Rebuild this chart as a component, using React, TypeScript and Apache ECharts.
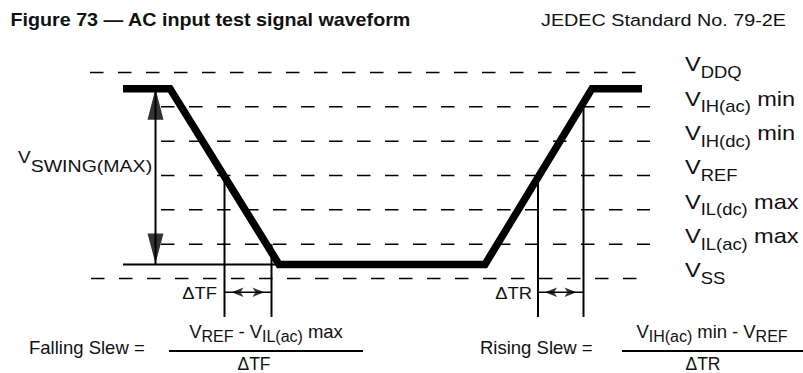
import React, { useEffect, useRef } from 'react';
import * as echarts from 'echarts';

// ---- data ----
// voltage levels, in evenly spaced level units (VSS = 0 … VDDQ = 6)
const levelValues = [0, 1, 2, 3, 4, 5, 6];
const levelSubs = ['SS', 'IL(ac)', 'IL(dc)', 'REF', 'IH(dc)', 'IH(ac)', 'DDQ'];
const levelSuffix = ['', 'max', 'max', '', 'min', 'min', ''];
const dashStart = [91, 161, 161, 161, 161, 161, 90];
const dashEnd = [650, 650, 650, 650, 650, 650, 650];
const labelTime = 685;
const labelLevelShift = 0.235;

// waveform (time units, level units)
const waveTimes = [123, 170, 279, 485, 592, 642];
const waveLevels = [5.53, 5.53, 0.41, 0.41, 5.53, 5.53];

// low reference line
const lowRefTimes = [123, 280];
const lowRefLevel = 0.41;

// swing arrow
const swingTime = 155.5;
const swingLevels = [5.53, 0.41];
const swingLabelTime = 18;
const swingLabelLevel = 3.52;

// measurement verticals
const crossTimes = [224.5, 271.5, 538, 583.5];
const crossLevels = [3, 1, 3, 5];
const crossBottomLevel = -1.12;

// delta arrows
const deltaNames = ['ΔTF', 'ΔTR'];
const deltaLevel = -0.4;
const deltaFrom = [224.5, 538];
const deltaTo = [271.5, 583.5];
const deltaLabelRight = [217, 532];

const FONT = '"Liberation Sans", Arial, Helvetica, sans-serif';
const INK = '#111';

export default function App() {
  const ref = useRef<HTMLDivElement>(null);

  useEffect(() => {
    const chart = echarts.init(ref.current!, null, { renderer: 'svg', width: 803, height: 373 });

    const lineSeries = (data: number[][], width: number, type: any = 'solid') => ({
      type: 'line',
      data,
      symbol: 'none',
      silent: true,
      clip: false,
      lineStyle: { color: '#000', width, type, cap: 'butt', join: 'miter' },
    });

    const headSeries = (data: number[][], symbol: string, size: number[], rotate: number, offset: number[]) => ({
      type: 'scatter',
      data,
      symbol,
      symbolSize: size,
      symbolRotate: rotate,
      symbolOffset: offset,
      silent: true,
      clip: false,
      itemStyle: { color: '#000' },
    });

    const series: any[] = [];
    levelValues.forEach((lv, i) => {
      series.push(lineSeries([[dashStart[i], lv], [dashEnd[i], lv]], 1.5, [13.5, 14.5]));
    });
    series.push(lineSeries([[lowRefTimes[0], lowRefLevel], [lowRefTimes[1], lowRefLevel]], 2));
    crossTimes.forEach((t, i) => {
      series.push(lineSeries([[t, crossLevels[i]], [t, crossBottomLevel]], 2));
    });
    // swing shaft with arrowheads
    series.push(lineSeries([[swingTime, swingLevels[0]], [swingTime, swingLevels[1]]], 2));
    series.push(headSeries([[swingTime, swingLevels[0]]], 'triangle', [16, 31], 0, [0, 15.5]));
    series.push(headSeries([[swingTime, swingLevels[1]]], 'triangle', [16, 30], 180, [0, -16]));
    // delta arrows
    deltaFrom.forEach((t, i) => {
      series.push(lineSeries([[t, deltaLevel], [deltaTo[i], deltaLevel]], 1.5));
    });
    series.push(headSeries(deltaFrom.map((t) => [t, deltaLevel]), 'arrow', [7, 12], 90, [7, 0]));
    series.push(headSeries(deltaTo.map((t) => [t, deltaLevel]), 'arrow', [7, 12], -90, [-7, 0]));
    // waveform on top
    series.push(lineSeries(waveTimes.map((t, i) => [t, waveLevels[i]]), 7.5));

    chart.setOption({
      animation: false,
      backgroundColor: '#fff',
      grid: { left: 0, right: 0, top: 72.5, bottom: 94.5 },
      xAxis: { type: 'value', min: 0, max: 803, show: false },
      yAxis: { type: 'value', min: 0, max: 6, show: false },
      series,
    });

    const px = (t: number, l: number) => chart.convertToPixel({ gridIndex: 0 }, [t, l]) as number[];

    const rs = (fontSize: number, extra: any = {}) => ({
      fontSize,
      fontFamily: FONT,
      fill: INK,
      verticalAlign: 'middle',
      ...extra,
    });

    const text = (x: number, y: number, str: string, opts: any = {}) => {
      const { scaleX = 1, align = 'left', fontSize = 17, fontWeight = 'normal', rich } = opts;
      return {
        type: 'text',
        x,
        y,
        scaleX,
        silent: true,
        style: {
          text: str,
          fontSize,
          fontWeight,
          fontFamily: FONT,
          fill: INK,
          align,
          verticalAlign: 'middle',
          textAlign: align,
          textVerticalAlign: 'middle',
          rich,
        },
      };
    };

    const elements: any[] = [];
    elements.push(
      text(10.5, 20, 'Figure 73 — AC input test signal waveform', { scaleX: 1.12, fontSize: 17.6, fontWeight: 'bold' })
    );
    elements.push(text(541, 20, 'JEDEC Standard No. 79-2E', { scaleX: 1.15, fontSize: 17.2 }));

    const labelRich = {
      v: rs(20.5),
      s: rs(16, { padding: [16, 0, 0, 0] }),
      t: rs(20.5, { padding: [0, 0, 0, 5.5] }),
    };
    levelValues.forEach((lv, i) => {
      const p = px(labelTime, lv + labelLevelShift);
      const str = `{v|V}{s|${levelSubs[i]}}` + (levelSuffix[i] ? `{t|${levelSuffix[i]}}` : '');
      elements.push(text(p[0], p[1], str, { scaleX: 1.15, rich: labelRich }));
    });

    const sw = px(swingLabelTime, swingLabelLevel);
    elements.push(
      text(sw[0], sw[1], '{v|V}{s|SWING(MAX)}', {
        scaleX: 1.15,
        rich: { v: rs(16.5), s: rs(17, { padding: [17, 0, 0, 0] }) },
      })
    );

    deltaNames.forEach((n, i) => {
      const p = px(deltaLabelRight[i], deltaLevel);
      elements.push(text(p[0], p[1] + 1, n, { scaleX: 1.15, align: 'right', fontSize: 16 }));
    });

    // formulas
    const fRich = {
      v: rs(18.5),
      s: rs(16, { padding: [10, 0, 0, 0] }),
      t: rs(18.5, { padding: [0, 0, 0, 5] }),
      d: rs(18.5, { padding: [0, 5, 0, 5] }),
    };
    elements.push(text(29, 347, 'Falling Slew =', { fontSize: 18.5 }));
    elements.push(text(266, 331, '{v|V}{s|REF}{d|-}{v|V}{s|IL(ac)}{t|max}', { align: 'center', rich: fRich }));
    elements.push({ type: 'line', silent: true, shape: { x1: 169, y1: 351, x2: 363, y2: 351 }, style: { stroke: '#000', lineWidth: 2 } });
    elements.push(text(254, 363.5, 'ΔTF', { align: 'center', fontSize: 17.5 }));

    elements.push(text(480, 347, 'Rising Slew =', { fontSize: 18.5 }));
    elements.push(text(712, 331, '{v|V}{s|IH(ac)}{t|min}{d|-}{v|V}{s|REF}', { align: 'center', rich: fRich }));
    elements.push({ type: 'line', silent: true, shape: { x1: 622, y1: 351, x2: 803, y2: 351 }, style: { stroke: '#000', lineWidth: 2 } });
    elements.push(text(703, 363.5, 'ΔTR', { align: 'center', fontSize: 17.5 }));

    chart.setOption({ graphic: { elements } });

    return () => chart.dispose();
  }, []);

  return (
    <div
      ref={ref}
      style={{ position: 'fixed', left: 0, top: 0, width: 803, height: 373, background: '#fff' }}
    />
  );
}
